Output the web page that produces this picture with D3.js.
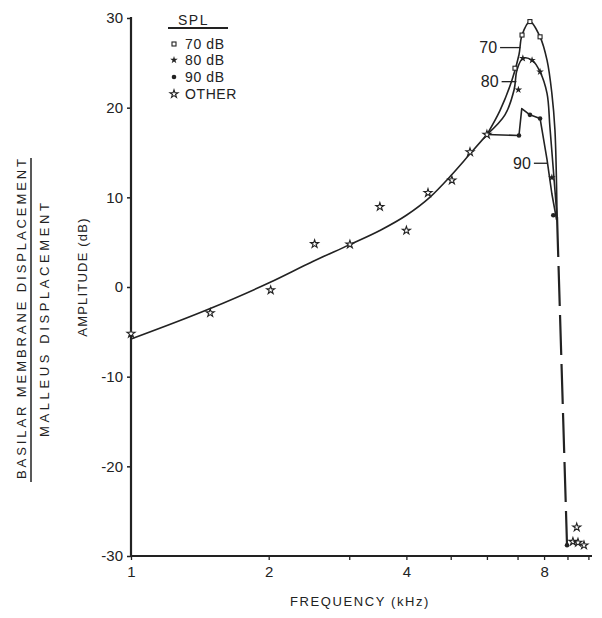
<!DOCTYPE html>
<html>
<head>
<meta charset="utf-8">
<script src="https://cdn.jsdelivr.net/npm/d3@7"></script>
<style>
  html, body { margin: 0; padding: 0; background: #fff; }
  svg { display: block; }
  text { font-family: "Liberation Sans", Arial, sans-serif; fill: #222; }
</style>
</head>
<body>
<svg id="chart" width="602" height="618"></svg>
<script>
// ---------- DATA ----------
// Common (low-frequency) fitted curve
const baseFreq = [1.0, 1.49, 2.01, 2.51, 3.0, 3.5, 4.0, 4.5, 5.0, 5.5, 6.0];
const baseDb   = [-5.8, -2.4, 0.5, 2.9, 4.7, 6.3, 8.0, 10.0, 12.4, 14.8, 17.0];

// 70 dB SPL curve near the peak
const c70Freq = [6.0, 6.41, 6.81, 7.05, 7.16, 7.45, 7.84, 8.12, 8.32, 8.45, 8.54];
const c70Db   = [17.0, 19.7, 23.1, 25.9, 28.1, 29.6, 27.9, 25.3, 21.6, 17.5, 7.8];

// 80 dB SPL curve near the peak
const c80Freq = [6.0, 6.57, 6.88, 6.98, 7.19, 7.53, 7.84, 8.12, 8.24, 8.54];
const c80Db   = [17.0, 19.2, 22.0, 24.2, 25.5, 25.3, 24.0, 21.6, 17.8, 7.8];

// 90 dB SPL curve near the peak
const c90Freq = [6.0, 7.05, 7.15, 7.45, 7.84, 8.12, 8.32, 8.52];
const c90Db   = [17.0, 16.9, 19.9, 19.2, 18.8, 14.2, 10.4, 7.5];

// Steep (dashed) high-frequency drop
const dropFreq = [8.54, 8.98];
const dropDb   = [7.8, -28.8];

// Measured points
const pts70Freq = [6.91, 7.16, 7.45, 7.84];
const pts70Db   = [24.4, 28.1, 29.6, 27.9];
const pts80Freq = [7.03, 7.19, 7.53, 7.84, 8.32];
const pts80Db   = [22.0, 25.5, 25.3, 24.0, 12.2];
const pts90Freq = [7.05, 7.45, 7.84, 8.38, 8.98];
const pts90Db   = [16.9, 19.2, 18.8, 8.0, -28.8];
const ptsOtherFreq = [1.0, 1.49, 2.02, 2.52, 3.01, 3.5, 4.0, 4.46, 5.03, 5.51, 6.0, 9.43, 9.25, 9.49, 9.78];
const ptsOtherDb   = [-5.2, -2.9, -0.35, 4.8, 4.75, 8.95, 6.3, 10.5, 11.9, 15.05, 17.0, -26.8, -28.4, -28.5, -28.8];

// Axis ticks
const xTicks = [1, 2, 3, 4, 5, 6, 7, 8, 9, 10];
const xTickLabels = [1, 2, 4, 8];
const yTicks = [-30, -20, -10, 0, 10, 20, 30];

// Curve labels (leader line from labelFreq-start to labelFreq-end at labelDb)
const curveLabels = ["70", "80", "90"];
const curveLabelDb = [26.7, 22.9, 13.8];
const curveLeaderFrom = [6.41, 6.46, 7.6];
const curveLeaderTo   = [7.1, 6.96, 8.12];

// Legend
const legendTitle = "SPL";
const legendItems = ["70 dB", "80 dB", "90 dB", "OTHER"];

// ---------- CHART ----------
const svg = d3.select("#chart");
const ink = "#222";

const x = d3.scaleLog().domain([1, 10]).range([131, 588.4]);
const y = d3.scaleLinear().domain([-30, 30]).range([556, 18]);

const zip = (fs, ds) => fs.map((f, i) => [f, ds[i]]);

// Axes
const yAxis = d3.axisLeft(y).tickValues(yTicks).tickSize(4).tickPadding(4)
  .tickFormat(d => String(d));
const gy = svg.append("g").attr("transform", "translate(131,0)").call(yAxis);
gy.select(".domain").attr("stroke", ink).attr("stroke-width", 2.2).attr("d", "M0,17V557");
gy.selectAll(".tick line").attr("stroke", ink).attr("stroke-width", 1.5);
gy.selectAll(".tick text").attr("font-size", 15).attr("fill", ink);

const xAxis = d3.axisBottom(x).tickValues(xTicks).tickSize(4).tickPadding(6)
  .tickFormat(d => xTickLabels.includes(d) ? String(d) : "");
const gx = svg.append("g").attr("transform", "translate(0,556)").call(xAxis);
gx.select(".domain").attr("stroke", ink).attr("stroke-width", 1.8).attr("d", "M131,0H592");
gx.selectAll(".tick line").attr("stroke", ink).attr("stroke-width", 1.3);
gx.selectAll(".tick text").attr("font-size", 15).attr("fill", ink);

// Axis titles
svg.append("text").attr("x", 360).attr("y", 606).attr("text-anchor", "middle")
  .attr("font-size", 13).attr("letter-spacing", 1.6).text("FREQUENCY (kHz)");

svg.append("text").attr("transform", "translate(87,277) rotate(-90)")
  .attr("text-anchor", "middle").attr("font-size", 13).attr("letter-spacing", 1.2)
  .text("AMPLITUDE (dB)");

svg.append("text").attr("transform", "translate(49,320) rotate(-90)")
  .attr("text-anchor", "middle").attr("font-size", 13)
  .attr("textLength", 234).attr("lengthAdjust", "spacing")
  .text("MALLEUS DISPLACEMENT");

svg.append("text").attr("transform", "translate(26,319) rotate(-90)")
  .attr("text-anchor", "middle").attr("font-size", 13)
  .attr("textLength", 320).attr("lengthAdjust", "spacing")
  .text("BASILAR MEMBRANE DISPLACEMENT");

svg.append("line").attr("x1", 31).attr("x2", 31).attr("y1", 158).attr("y2", 482)
  .attr("stroke", ink).attr("stroke-width", 1.5);

// Lines
const smooth = d3.line().x(d => x(d[0])).y(d => y(d[1])).curve(d3.curveMonotoneX);
const peak = d3.line().x(d => x(d[0])).y(d => y(d[1])).curve(d3.curveCatmullRom.alpha(0.5));
const straight = d3.line().x(d => x(d[0])).y(d => y(d[1]));

const lineG = svg.append("g").attr("fill", "none").attr("stroke", ink)
  .attr("stroke-width", 1.6).attr("stroke-linejoin", "round");
lineG.append("path").attr("d", smooth(zip(baseFreq, baseDb)));
lineG.append("path").attr("d", peak(zip(c70Freq, c70Db)));
lineG.append("path").attr("d", peak(zip(c80Freq, c80Db)));
lineG.append("path").attr("d", straight(zip(c90Freq, c90Db)));
lineG.append("path").attr("d", straight(zip(dropFreq, dropDb)))
  .attr("stroke-width", 2.2).attr("stroke-dasharray", "40,9");

// Markers
const starPath = d3.symbol(d3.symbolStar, 20)();
const starSmall = d3.symbol(d3.symbolStar, 18)();
const mk = svg.append("g");
zip(pts70Freq, pts70Db).forEach(d => {
  mk.append("rect").attr("x", x(d[0]) - 2).attr("y", y(d[1]) - 2)
    .attr("width", 4).attr("height", 4).attr("fill", "#fff").attr("stroke", ink).attr("stroke-width", 1.1);
});
zip(pts80Freq, pts80Db).forEach(d => {
  mk.append("path").attr("d", starSmall).attr("transform", `translate(${x(d[0])},${y(d[1])})`)
    .attr("fill", ink);
});
zip(pts90Freq, pts90Db).forEach(d => {
  mk.append("circle").attr("cx", x(d[0])).attr("cy", y(d[1])).attr("r", 2.3).attr("fill", ink);
});
zip(ptsOtherFreq, ptsOtherDb).forEach(d => {
  mk.append("path").attr("d", starPath).attr("transform", `translate(${x(d[0])},${y(d[1])})`)
    .attr("fill", "#fff").attr("stroke", ink).attr("stroke-width", 1.1);
});

// Curve labels with leader lines
curveLabels.forEach((t, i) => {
  const x0 = x(curveLeaderFrom[i]), x1 = x(curveLeaderTo[i]), py = y(curveLabelDb[i]);
  svg.append("line").attr("x1", x0).attr("x2", x1).attr("y1", py).attr("y2", py)
    .attr("stroke", ink).attr("stroke-width", 1.3);
  svg.append("text").attr("x", x0 - 3).attr("y", py).attr("dy", "0.36em")
    .attr("text-anchor", "end").attr("font-size", 16).text(t);
});

// Legend
const lg = svg.append("g");
lg.append("text").attr("x", 178).attr("y", 25).attr("font-size", 14)
  .attr("letter-spacing", 1.5).text(legendTitle);
lg.append("line").attr("x1", 168).attr("x2", 228).attr("y1", 28).attr("y2", 28)
  .attr("stroke", ink).attr("stroke-width", 1.8);
const rowY = [44, 60, 77, 94];
legendItems.forEach((t, i) => {
  const cy = rowY[i], cx = 174;
  if (i === 0) {
    lg.append("rect").attr("x", cx - 2).attr("y", cy - 2).attr("width", 4).attr("height", 4)
      .attr("fill", "#fff").attr("stroke", ink).attr("stroke-width", 1.1);
  } else if (i === 1) {
    lg.append("path").attr("d", starSmall).attr("transform", `translate(${cx},${cy})`).attr("fill", ink);
  } else if (i === 2) {
    lg.append("circle").attr("cx", cx).attr("cy", cy).attr("r", 2.3).attr("fill", ink);
  } else {
    lg.append("path").attr("d", starPath).attr("transform", `translate(${cx},${cy})`)
      .attr("fill", "#fff").attr("stroke", ink).attr("stroke-width", 1.1);
  }
  lg.append("text").attr("x", 185).attr("y", cy).attr("dy", "0.36em")
    .attr("font-size", 14).attr("letter-spacing", 0.6).text(t);
});
</script>
</body>
</html>
